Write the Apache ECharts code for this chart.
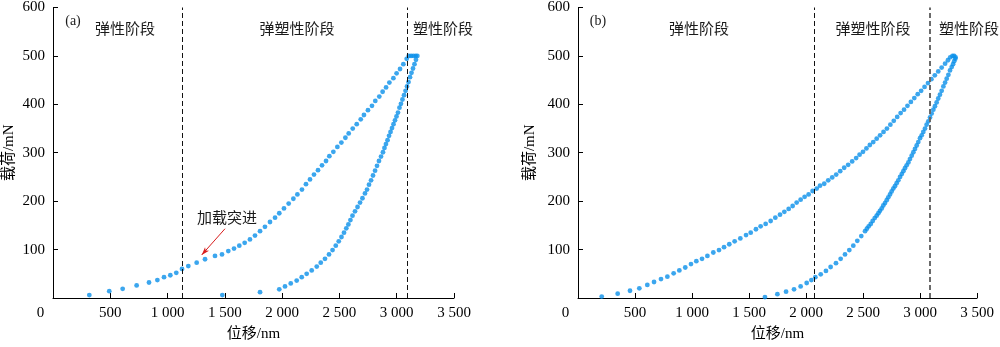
<!DOCTYPE html>
<html>
<head>
<meta charset="utf-8">
<script src="https://cdn.jsdelivr.net/npm/echarts@6/dist/echarts.min.js"></script>
<style>
  html, body { margin: 0; padding: 0; background: #fff; }
  #chart { width: 1000px; height: 347px; }
</style>
</head>
<body>
<div id="chart"></div>
<script>
// ---- data: load (mN) vs displacement (nm) ----
const xTicks = [0, 500, 1000, 1500, 2000, 2500, 3000, 3500];
const yTicks = [0, 100, 200, 300, 400, 500, 600];

// (a) loading branch incl. hold at peak load
const loadA = [
  [317,6],[491,14],[608,19],[730,26],[838,32],[911,37],[969,43],[1024,47],[1076,52],[1126,60],
  [1181,66],[1254,73],[1327,80],[1414,87],[1475,90],[1530,97],[1580,102],[1626,108],[1673,114],
  [1719,121],[1763,129],[1807,138],[1850,147],[1894,157],[1938,166],[1975,175],[2016,185],
  [2057,195],[2098,205],[2133,214],[2173,224],[2208,235],[2243,245],[2278,255],[2313,264],
  [2348,274],[2383,283],[2412,293],[2447,302],[2482,312],[2517,321],[2552,331],[2581,340],
  [2616,350],[2651,359],[2686,369],[2714,378],[2749,388],[2784,397],[2813,407],[2848,416],
  [2877,426],[2907,435],[2936,445],[2971,454],[2999,464],[3029,473],[3058,483],[3087,494],
  [3105,500],[3125,500],[3145,500],[3165,500],[3180,500]
];
// (a) unloading branch
const unloadA = [
  [3168,492],[3155,483],[3142,474],[3129,465],[3116,456],[3103,446],[3090,437],[3077,428],
  [3064,419],[3050,410],[3037,401],[3024,393],[3011,383],[2998,375],[2985,367],[2972,359],
  [2959,351],[2946,343],[2933,335],[2920,326],[2906,318],[2893,310],[2880,301],[2863,292],
  [2845,283],[2828,273],[2811,263],[2793,253],[2776,243],[2758,234],[2741,224],[2723,216],
  [2701,206],[2680,197],[2658,188],[2636,179],[2614,170],[2596,161],[2578,152],[2560,144],
  [2540,135],[2518,126],[2494,117],[2468,108],[2440,99],[2409,90],[2374,81],[2337,73],
  [2302,65],[2258,57],[2214,50],[2171,43],[2127,36],[2075,30],[2025,24],[1975,18],[1807,12],
  [1478,6]
];
// (b) loading branch
const loadB = [
  [208,3],[348,9],[456,15],[538,20],[608,27],[667,33],[728,39],[784,44],[839,51],[889,57],
  [941,63],[991,70],[1038,76],[1088,81],[1135,87],[1187,94],[1237,99],[1281,105],[1327,111],
  [1374,117],[1424,123],[1474,130],[1515,135],[1561,142],[1602,148],[1646,153],[1690,159],
  [1731,166],[1772,172],[1810,178],[1848,184],[1883,190],[1918,197],[1953,203],[1988,209],
  [2023,214],[2058,221],[2094,226],[2123,232],[2160,236],[2195,243],[2230,249],[2265,255],
  [2300,262],[2335,269],[2370,275],[2405,282],[2440,289],[2470,296],[2500,302],[2530,309],
  [2560,316],[2590,322],[2620,329],[2650,336],[2680,343],[2710,350],[2740,358],[2770,366],
  [2800,374],[2830,382],[2860,389],[2890,397],[2920,405],[2950,413],[2980,421],[3010,428],
  [3040,436],[3070,444],[3100,452],[3130,460],[3160,468],[3190,476],[3220,484],[3245,491],
  [3265,497],[3285,500],[3300,500],[3312,497]
];
// (b) unloading branch
const unloadB = [
  [3310,494],[3300,489],[3290,483],[3278,477],[3263,470],[3249,461],[3234,453],[3220,445],
  [3205,437],[3190,428],[3175,420],[3160,412],[3146,404],[3131,396],[3117,389],[3102,381],
  [3088,373],[3073,365],[3058,358],[3044,350],[3029,343],[3015,336],[3000,330],[2985,322],
  [2971,315],[2956,308],[2942,301],[2927,294],[2912,287],[2898,280],[2883,274],[2868,268],
  [2854,262],[2840,256],[2825,250],[2810,243],[2795,237],[2780,231],[2766,226],[2751,220],
  [2737,214],[2722,208],[2708,202],[2693,196],[2678,191],[2664,185],[2649,180],[2635,175],
  [2620,170],[2603,165],[2585,159],[2568,153],[2550,148],[2534,143],[2518,138],[2485,128],
  [2450,118],[2415,108],[2380,99],[2342,90],[2304,81],[2263,72],[2216,64],[2175,56],
  [2129,49],[2082,43],[2047,37],[2006,31],[1953,24],[1895,18],[1825,13],[1749,8],[1640,2]
];

// stage boundaries (nm)
const stageA = [1130, 3090];
const stageB = [2073, 3088];
// pop-in annotation: arrow from text to curve
const popInArrow = [[1501, 143], [1298, 89]];

const stageNames = ['弹性阶段', '弹塑性阶段', '塑性阶段'];

// ---- styles ----
const FONT = '"Liberation Serif", "Noto Sans CJK SC", serif';
const DOT = '#0a90ea';
const FS = 15;

function fmtTick(v) {
  if (v === 0) return '{o|0}';
  const s = String(v);
  return s.length > 3 ? s.slice(0, s.length - 3) + ' ' + s.slice(-3) : s;
}

function xAxisCfg(gi) {
  return {
    type: 'value', gridIndex: gi, min: xTicks[0], max: xTicks[xTicks.length - 1], interval: 500,
    axisLine: { show: true, onZero: false, lineStyle: { color: '#000', width: 1 } },
    axisTick: { show: true, inside: true, length: 5, lineStyle: { color: '#000', width: 1 } },
    splitLine: { show: false },
    axisLabel: {
      color: '#000', fontFamily: FONT, fontSize: FS, margin: 8, formatter: fmtTick,
      rich: { o: { padding: [0, 25, 0, 0], color: '#000', fontFamily: FONT, fontSize: FS } }
    },
    name: '位移/nm', nameLocation: 'middle', nameGap: 29,
    nameTextStyle: { color: '#000', fontFamily: FONT, fontSize: FS }
  };
}
function yAxisCfg(gi, gap) {
  return {
    type: 'value', gridIndex: gi, min: yTicks[0], max: yTicks[yTicks.length - 1], interval: 100,
    axisLine: { show: true, onZero: false, lineStyle: { color: '#000', width: 1 } },
    axisTick: { show: true, inside: true, length: 5, lineStyle: { color: '#000', width: 1 } },
    splitLine: { show: false },
    axisLabel: {
      color: '#000', fontFamily: FONT, fontSize: FS, margin: 8,
      formatter: v => (v === 0 ? '' : String(v))
    },
    name: '载荷/mN', nameLocation: 'middle', nameGap: gap,
    nameTextStyle: { color: '#000', fontFamily: FONT, fontSize: FS }
  };
}

function dots(data, gi, extra) {
  return Object.assign({
    type: 'scatter', xAxisIndex: gi, yAxisIndex: gi, data: data,
    symbol: 'circle', symbolSize: 4.8, silent: true, animation: false,
    itemStyle: { color: DOT }
  }, extra || {});
}

function stageLines(xs, styles) {
  return {
    silent: true, symbol: 'none', animation: false, label: { show: false },
    data: xs.map((x, i) => ({ xAxis: x, lineStyle: styles[i] }))
  };
}

const thinDash = { color: '#111', width: 1, type: [5, 3] };
const greyDash = { color: '#6a6a6a', width: 2, type: [5, 3] };

function label(text, x, y, size) {
  return {
    type: 'text', x: x, y: y, silent: true,
    style: { text: text, font: (size || FS) + 'px ' + FONT, fill: '#1a1a1a', align: 'center', verticalAlign: 'middle' }
  };
}

const chart = echarts.init(document.getElementById('chart'), null, { renderer: 'canvas' });
chart.setOption({
  animation: false,
  backgroundColor: '#fff',
  grid: [
    { left: 53, top: 7, width: 401, height: 295 },
    { left: 578, top: 7, width: 399, height: 295 }
  ],
  xAxis: [xAxisCfg(0), xAxisCfg(1)],
  yAxis: [yAxisCfg(0, 36), yAxisCfg(1, 40)],
  series: [
    dots(loadA, 0, {
      markLine: {
        silent: true, animation: false, symbol: ['none', 'arrow'], symbolSize: [4, 8],
        label: { show: false },
        lineStyle: { color: '#d81e1e', width: 1, type: 'solid' },
        data: [[{ coord: popInArrow[0] }, { coord: popInArrow[1] }]]
      }
    }),
    dots(unloadA, 0, { markLine: stageLines(stageA, [thinDash, thinDash]) }),
    dots(loadB, 1),
    dots(unloadB, 1, { markLine: stageLines(stageB, [thinDash, greyDash]) })
  ],
  graphic: [
    label('(a)', 73, 21, 14),
    label(stageNames[0], 125, 30),
    label(stageNames[1], 297, 30),
    label(stageNames[2], 443, 30),
    label('加载突进', 227, 219),
    label('(b)', 598, 21, 14),
    label(stageNames[0], 699, 30),
    label(stageNames[1], 873, 30),
    label(stageNames[2], 969, 30)
  ]
});
</script>
</body>
</html>
